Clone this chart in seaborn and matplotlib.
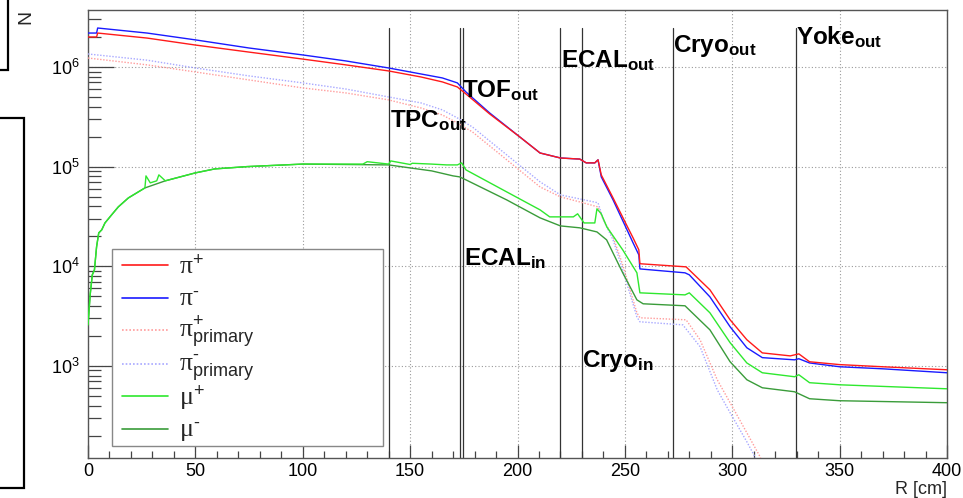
import matplotlib
matplotlib.use("Agg")
import matplotlib.pyplot as plt
from matplotlib.patches import Rectangle
from matplotlib.ticker import LogLocator, MultipleLocator, NullFormatter, LogFormatterSciNotation
import pandas as pd
import seaborn as sns

# Particle flux N versus radius R [cm]
pip_r = [0, 4, 4.5, 27.5, 50, 75, 100, 120, 140, 155, 165, 172, 176, 187, 201, 210.5, 220, 229, 232, 236,
         237.5, 239, 244.5, 251, 253.8, 256.5, 257, 278.5, 289.6, 299, 306.8, 314, 327, 331, 336, 350, 370, 400]
pip_n = [2.0e6, 2.0e6, 2.19e6, 1.95e6, 1.66e6, 1.41e6, 1.2e6, 1.05e6, 9.12e5, 7.94e5, 7.08e5, 6.3e5, 5.36e5,
         3.38e5, 1.99e5, 1.37e5, 1.22e5, 1.19e5, 1.09e5, 1.09e5, 1.17e5, 8.26e4, 4.85e4, 2.54e4, 1.93e4, 1.46e4,
         1.06e4, 9.86e3, 5.8e3, 2.9e3, 1.83e3, 1.35e3, 1.26e3, 1.32e3, 1.1e3, 1.03e3, 980, 914]

pim_r = [0, 4, 4.5, 27.5, 50, 75, 100, 120, 140, 155, 165, 172, 176, 187, 201, 210.5, 220, 229, 232, 236,
         237.5, 239, 244.5, 251, 253.8, 256.5, 257, 278, 280, 289.6, 299, 306.8, 314, 329, 331, 336, 350, 370, 400]
pim_n = [2.19e6, 2.19e6, 2.46e6, 2.19e6, 1.87e6, 1.55e6, 1.32e6, 1.15e6, 9.77e5, 8.51e5, 7.76e5, 6.92e5, 5.61e5,
         3.46e5, 1.99e5, 1.37e5, 1.22e5, 1.19e5, 1.09e5, 1.09e5, 1.17e5, 7.89e4, 4.63e4, 2.32e4, 1.72e4, 1.3e4,
         9.4e3, 8.59e3, 8.2e3, 4.93e3, 2.47e3, 1.52e3, 1.21e3, 1.15e3, 1.18e3, 1.07e3, 980, 935, 853]

pip_prim_r = [0, 27.5, 50, 75, 100, 120, 140, 155, 165, 172, 179, 195, 210.5, 220, 229, 237.5, 240, 244.5, 249,
              255.6, 257, 278.5, 285, 293, 299, 306.8, 313, 316]
pip_prim_n = [1.23e6, 1.05e6, 8.91e5, 7.41e5, 6.16e5, 5.49e5, 4.67e5, 3.88e5, 3.3e5, 2.74e5, 2.23e5, 1.17e5,
              6.25e4, 4.97e4, 4.42e4, 3.94e4, 2.92e4, 1.97e4, 1.03e4, 3.41e3, 3.04e3, 2.9e3, 1.83e3, 726, 427,
              213, 122, 80]

pim_prim_r = [0, 27.5, 50, 75, 100, 120, 140, 155, 165, 172, 179, 195, 210.5, 220, 229, 237.5, 240, 244.5, 249,
              255.6, 257, 277, 285, 293, 299, 306.8, 310.6, 313]
pim_prim_n = [1.35e6, 1.17e6, 9.77e5, 8.13e5, 6.92e5, 6.01e5, 5.0e5, 4.36e5, 3.71e5, 3.08e5, 2.5e5, 1.31e5,
              7.03e4, 5.2e4, 4.74e4, 4.33e4, 2.92e4, 1.84e4, 9.2e3, 3.1e3, 2.77e3, 2.58e3, 1.56e3, 576, 339,
              173, 122, 80]

mup_r = [0, 1, 2, 3, 4, 5, 6.4, 7.9, 11, 14.1, 18.8, 26.5, 27, 29, 32, 33, 36, 50, 59, 74, 100, 128, 130, 140,
         141, 150, 151, 160, 167, 172, 174, 176, 195, 210.5, 215, 226, 228, 231, 236, 237, 239, 241.6, 249, 255.6,
         257, 278, 280, 289.6, 299, 306.8, 314, 329, 331, 336, 350, 400]
mup_n = [2.58e3, 5.16e3, 8.2e3, 9.2e3, 1.57e4, 2.16e4, 2.32e4, 2.72e4, 3.28e4, 3.94e4, 4.85e4, 6.11e4, 8.07e4,
         6.87e4, 7.2e4, 8.26e4, 7.2e4, 8.65e4, 9.48e4, 1.0e5, 1.06e5, 1.06e5, 1.12e5, 1.06e5, 1.14e5, 1.05e5,
         1.08e5, 1.06e5, 1.04e5, 1.04e5, 1.09e5, 9.27e4, 5.57e4, 3.68e4, 3.13e4, 3.13e4, 3.36e4, 2.72e4, 2.72e4,
         3.77e4, 3.36e4, 2.48e4, 1.46e4, 8.59e3, 5.41e3, 5.16e3, 5.41e3, 3.41e3, 1.71e3, 1.07e3, 853, 778, 815,
         678, 646, 589]

mum_r = [0, 1, 2, 3, 4, 5, 6.4, 7.9, 11, 14.1, 18.8, 26.5, 36, 50, 59, 74, 100, 140, 150, 160, 170, 173, 176,
         195, 210.5, 220, 229, 237, 241.5, 249, 255.6, 258.5, 278, 289.6, 299, 306.8, 314, 329, 336, 350, 400]
mum_n = [2.58e3, 5.16e3, 8.2e3, 9.2e3, 1.57e4, 2.16e4, 2.32e4, 2.72e4, 3.28e4, 3.94e4, 4.85e4, 6.11e4, 7.2e4,
         8.65e4, 9.48e4, 1.0e5, 1.06e5, 1.04e5, 9.7e4, 9.06e4, 8.07e4, 7.89e4, 7.36e4, 4.63e4, 3.06e4, 2.54e4,
         2.43e4, 2.21e4, 1.84e4, 8.59e3, 4.6e3, 4.2e3, 4.01e3, 2.3e3, 1.1e3, 726, 603, 550, 468, 447, 427]

# detector boundaries: name, subscript, radius
det_names = ["TPC", "TOF", "ECAL", "ECAL", "Cryo", "Cryo", "Yoke"]
det_subs = ["out", "out", "in", "out", "in", "out", "out"]
det_r = [140, 173, 174.8, 219.8, 230, 272.2, 329.5]
# label anchors (R, N) of the baseline of each boundary name
label_r = [140.6, 174.0, 175.1, 220.3, 230.0, 272.4, 329.5]
label_n = [2.44e5, 4.89e5, 1.01e4, 9.77e5, 977, 1.41e6, 1.66e6]

series = ["pi+", "pi-", "pi+ primary", "pi- primary", "mu+", "mu-"]
legend_labels = [r"$\pi^{+}$", r"$\pi^{\text{-}}$", r"$\pi^{+}_{\mathrm{primary}}$",
                 r"$\pi^{\text{-}}_{\mathrm{primary}}$", r"$\mu^{+}$", r"$\mu^{\text{-}}$"]
palette = {"pi+": "#ff1a1a", "pi-": "#1a1aff", "pi+ primary": "#ff9c9c", "pi- primary": "#a8a8ff",
           "mu+": "#2ee82e", "mu-": "#3a9c3a"}
dashes = {"pi+": "", "pi-": "", "pi+ primary": (1, 1.2), "pi- primary": (1, 1.2), "mu+": "", "mu-": ""}

df = pd.concat([
    pd.DataFrame({"R": pip_r, "N": pip_n, "series": "pi+"}),
    pd.DataFrame({"R": pim_r, "N": pim_n, "series": "pi-"}),
    pd.DataFrame({"R": pip_prim_r, "N": pip_prim_n, "series": "pi+ primary"}),
    pd.DataFrame({"R": pim_prim_r, "N": pim_prim_n, "series": "pi- primary"}),
    pd.DataFrame({"R": mup_r, "N": mup_n, "series": "mu+"}),
    pd.DataFrame({"R": mum_r, "N": mum_n, "series": "mu-"}),
], ignore_index=True)

sns.set_style("ticks")
plt.rcParams["font.family"] = ["Liberation Sans", "DejaVu Sans"]
plt.rcParams["mathtext.fontset"] = "custom"
plt.rcParams["mathtext.rm"] = "Liberation Sans"
plt.rcParams["mathtext.bf"] = "Liberation Sans:bold"
# greek letters of the legend come out upright and serif, like ROOT's symbol font
plt.rcParams["mathtext.it"] = "Liberation Serif"

W, H = 963, 498
fig = plt.figure(figsize=(W / 100, H / 100), dpi=100)
ax = fig.add_axes([88 / W, 40 / H, 859 / W, 448 / H])
ax.set_yscale("log")

order = ["pi+ primary", "pi- primary", "mu-", "mu+", "pi-", "pi+"]
sns.lineplot(data=df, x="R", y="N", hue="series", style="series", hue_order=order, style_order=order,
             palette=palette, dashes=dashes, estimator=None, legend=False, linewidth=1.0, ax=ax, zorder=3)

ax.set_xlim(0, 400)
ax.set_ylim(119, 3.73e6)

ax.xaxis.set_major_locator(MultipleLocator(50))
ax.xaxis.set_minor_locator(MultipleLocator(10))
ax.yaxis.set_major_locator(LogLocator(base=10))
ax.yaxis.set_minor_locator(LogLocator(base=10, subs=range(2, 10)))
ax.yaxis.set_major_formatter(LogFormatterSciNotation())
ax.yaxis.set_minor_formatter(NullFormatter())

ax.tick_params(which="both", direction="in", top=False, right=False, color="#444444", width=0.9,
               labelsize=13, labelcolor="black")
ax.tick_params(axis="x", which="major", length=9.4, pad=3.5)
ax.tick_params(axis="x", which="minor", length=5)
ax.tick_params(axis="y", which="major", length=18.5, pad=6)
ax.tick_params(axis="y", which="minor", length=9.4)

for s in ax.spines.values():
    s.set_color("#555555")
    s.set_linewidth(1.0)

ax.set_axisbelow(True)
ax.grid(which="major", axis="both", linestyle=(0, (1, 2)), color="#9a9a9a", linewidth=0.8)

ax.set_xlabel("R [cm]", loc="right", fontsize=13)
ax.xaxis.set_label_coords(1.0, -23 / 448)
ax.set_ylabel("N", loc="top", fontsize=14)
ax.yaxis.set_label_coords(-54 / 859, 1.0)

# detector boundaries
for r in det_r:
    ax.axvline(r, ymin=0, ymax=430 / 448, color="#333333", linewidth=0.9, zorder=2)
for name, sub, r, n in zip(det_names, det_subs, label_r, label_n):
    ax.text(r, n, rf"$\mathbf{{{name}}}_{{\mathbf{{{sub}}}}}$", fontsize=17.5, ha="left", va="baseline",
            color="black", zorder=5)

# legend box drawn by hand (ROOT-like TLegend)
ax.add_patch(Rectangle((24 / 859, 12 / 448), 271 / 859, 197 / 448, transform=ax.transAxes,
                       facecolor="white", edgecolor="#888888", linewidth=1.0, zorder=6))
row_px = [265, 298, 330, 364, 396, 429]
for s, lab, py in zip(series, legend_labels, row_px):
    yf = (458 - py) / 448
    d = dashes[s]
    ax.plot([34 / 859, 80 / 859], [yf, yf], transform=ax.transAxes, color=palette[s], linewidth=1.2,
            linestyle="-" if d == "" else (0, d), zorder=7, clip_on=False)
    ax.text(91 / 859, yf - 8 / 448, lab, transform=ax.transAxes, fontsize=18.5, ha="left", va="baseline",
            zorder=7)

# frames of neighbouring pads cut at the left edge of the canvas
fig.add_artist(Rectangle((-0.02, 1 - 70 / H), 0.02 + 8 / W, 70 / H + 0.02, transform=fig.transFigure,
                         fill=False, edgecolor="black", linewidth=1.6))
fig.add_artist(Rectangle((-0.02, 10 / H), 0.02 + 24 / W, 370 / H, transform=fig.transFigure,
                         fill=False, edgecolor="black", linewidth=1.6))

fig.savefig("out.png", dpi=100)
